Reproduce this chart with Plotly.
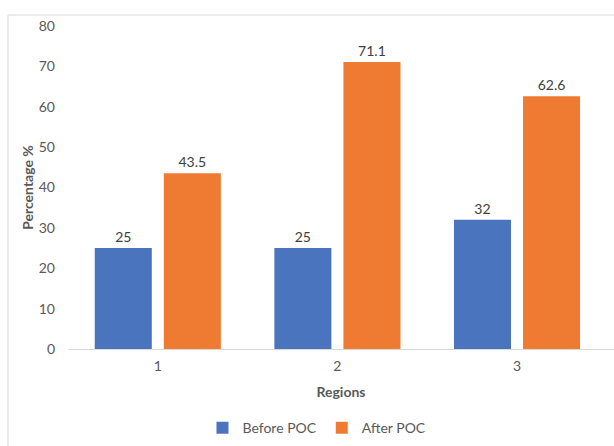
import plotly.graph_objects as go

# Chart data
regions = ["1", "2", "3"]
before_poc = [25, 25, 32]
after_poc = [43.5, 71.1, 62.6]
y_ticks = [0, 10, 20, 30, 40, 50, 60, 70, 80]

FONT = "Lato, Open Sans, sans-serif"
TXT = "#595959"
LABEL = "#404040"

fig = go.Figure()
fig.add_trace(go.Bar(
    name="Before POC", x=regions, y=before_poc,
    marker=dict(color="#4b74be", line=dict(width=0)),
    text=[f"{v:g}" for v in before_poc], textposition="outside",
    textfont=dict(size=14, color=LABEL, family=FONT),
    cliponaxis=False,
))
fig.add_trace(go.Bar(
    name="After POC", x=regions, y=after_poc,
    marker=dict(color="#ef7b33", line=dict(width=0)),
    text=[f"{v:g}" for v in after_poc], textposition="outside",
    textfont=dict(size=14, color=LABEL, family=FONT),
    cliponaxis=False,
))

fig.update_layout(
    width=614, height=446,
    margin=dict(l=68, r=0, t=26, b=97),
    paper_bgcolor="white", plot_bgcolor="white",
    barmode="group", bargap=0.231, bargroupgap=0.174,
    font=dict(family=FONT, color=TXT, size=14),
    showlegend=True,
    legend=dict(orientation="h", x=0.456, xanchor="center", y=-0.245,
                yanchor="middle", font=dict(size=14, color=TXT),
                itemwidth=30, traceorder="normal"),
    xaxis=dict(
        type="category", range=[-0.5, 2.54],
        showline=True, linecolor="#d9d9d9", linewidth=1,
        ticks="", showgrid=False, tickfont=dict(size=14, color=TXT),
        ticklabelstandoff=4,
        title=dict(text="<b>Regions</b>", font=dict(size=14, color=TXT), standoff=14),
    ),
    yaxis=dict(
        range=[0, 80], tickvals=y_ticks, showgrid=False, zeroline=False,
        showline=False, ticks="", tickfont=dict(size=14, color=TXT),
        ticklabelstandoff=12,
        title=dict(text="<b>Percentage %</b>", font=dict(size=14, color=TXT), standoff=1),
    ),
    shapes=[dict(type="rect", xref="paper", yref="paper",
                 x0=-0.1099, x1=1.05, y0=-0.4, y1=1.034,
                 line=dict(color="#d9d9d9", width=1), layer="below")],
)

fig.write_html("out.html")
